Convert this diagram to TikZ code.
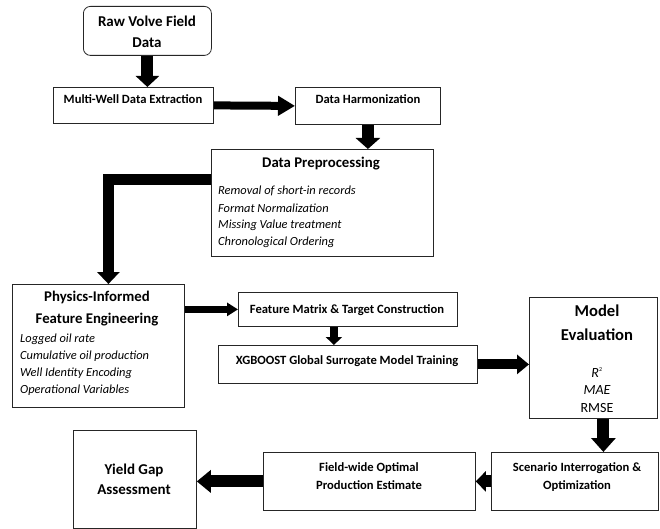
\documentclass[tikz,border=0pt]{standalone}
\usepackage{fontspec}
\setmainfont{Carlito}
\usetikzlibrary{arrows.meta,calc}
\tikzset{
  box/.style={draw=black!85,line width=0.8pt,fill=white,anchor=north west,inner sep=0pt},
  rbox/.style={box,rounded corners=7pt},
  lbl/.style={inner sep=0pt,anchor=base,font=\bfseries\fontsize{12.6}{14}\selectfont},
  big/.style={inner sep=0pt,anchor=base,font=\bfseries\fontsize{15}{17}\selectfont},
  ttl/.style={inner sep=0pt,anchor=base,font=\bfseries\fontsize{14.8}{17}\selectfont},
  hug/.style={inner sep=0pt,anchor=base,font=\bfseries\fontsize{16.6}{19}\selectfont},
  itm/.style={inner sep=0pt,anchor=base west,font=\itshape\fontsize{12.4}{14}\selectfont},
  met/.style={inner sep=0pt,anchor=base,font=\fontsize{14}{16}\selectfont},
  arr/.style={line width=#1,draw=black,line join=miter},
}
\begin{document}
\begin{tikzpicture}[x=1pt,y=1pt]
\useasboundingbox (0,0) rectangle (660,-529);
\fill[white] (0,0) rectangle (660,-529);
% boxes
\node[rbox,minimum width=128pt,minimum height=49pt] (raw) at (83,-6) {};
\node[box,minimum width=160pt,minimum height=36pt] (multi) at (53,-87) {};
\node[box,minimum width=145pt,minimum height=37pt] (harm) at (295,-87) {};
\node[box,minimum width=222pt,minimum height=107pt] (pre) at (211,-149) {};
\node[box,minimum width=172pt,minimum height=123pt] (phys) at (12,-284) {};
\node[box,minimum width=219pt,minimum height=34pt] (feat) at (238,-292) {};
\node[box,minimum width=259pt,minimum height=38pt] (xgb) at (218,-345) {};
\node[box,minimum width=128pt,minimum height=121pt] (model) at (529,-297) {};
\node[box,minimum width=167pt,minimum height=58pt] (scen) at (491,-452) {};
\node[box,minimum width=212pt,minimum height=58pt] (field) at (263,-452) {};
\node[box,minimum width=123pt,minimum height=98pt] (yield) at (73,-430) {};
% texts
\node[big] (rawa) at (147,-27) {Raw Volve Field};
\node[big] (rawb) at (147,-48) {Data};
\node[lbl] (multit) at (133,-104) {Multi-Well Data Extraction};
\node[lbl] (harmt) at (368,-104) {Data Harmonization};
\node[ttl] (pret) at (321,-168) {Data Preprocessing};
\node[itm] (pre1) at (218,-195) {Removal of short-in records};
\node[itm] (pre2) at (218,-212) {Format Normalization};
\node[itm] (pre3) at (218,-228) {Missing Value treatment};
\node[itm] (pre4) at (218,-245) {Chronological Ordering};
\node[ttl] (physa) at (97,-301) {Physics-Informed};
\node[ttl] (physb) at (97,-323) {Feature Engineering};
\node[itm] (phys1) at (20,-342) {Logged oil rate};
\node[itm] (phys2) at (20,-359) {Cumulative oil production};
\node[itm] (phys3) at (20,-376) {Well Identity Encoding};
\node[itm] (phys4) at (20,-393) {Operational Variables};
\node[lbl] (featt) at (347,-313) {Feature Matrix \& Target Construction};
\node[lbl] (xgbt) at (347,-364) {XGBOOST Global Surrogate Model Training};
\node[hug] (modela) at (597,-316) {Model};
\node[hug] (modelb) at (597,-340) {Evaluation};
\node[met] (m1) at (597,-377) {\textit{R}\textsuperscript{\fontsize{6}{7}\selectfont 2}};
\node[met,font=\itshape\fontsize{14}{16}\selectfont] (m2) at (597,-394) {MAE};
\node[met] (m3) at (597,-412) {RMSE};
\node[lbl] (scena) at (577,-471) {Scenario Interrogation \&};
\node[lbl] (scenb) at (577,-489) {Optimization};
\node[lbl] (fielda) at (369,-471) {Field-wide Optimal};
\node[lbl] (fieldb) at (369,-489) {Production Estimate};
\node[big] (yielda) at (134,-474) {Yield Gap};
\node[big] (yieldb) at (134,-494) {Assessment};
% arrows
\draw[arr=12pt,-{Triangle[width=23pt,length=11pt]}] (raw.south) -- (raw.south |- multi.north);
\draw[arr=8pt,-{Triangle[width=19pt,length=17pt]}] (multi.east) -- (harm.west);
\draw[arr=12pt,-{Triangle[width=24pt,length=11pt]}] (harm.south) -- (harm.south |- pre.north);
\coordinate (lstart) at ($(pre.north west)+(0,-31)$);
\coordinate (ldown) at ($(phys.north)+(10,0)$);
\draw[arr=11pt,-{Triangle[width=22pt,length=12pt]}] (lstart) -| (ldown);
\draw[arr=7pt,-{Triangle[width=13pt,length=11pt]}] (phys.east |- feat.west) -- (feat.west);
\draw[arr=8pt,-{Triangle[width=16pt,length=8pt]}] ([xshift=-14pt]feat.south) -- ([xshift=-14pt]feat.south |- xgb.north);
\draw[arr=10pt,-{Triangle[width=19pt,length=12pt]}] (xgb.east) -- (xgb.east -| model.west);
\draw[arr=12pt,-{Triangle[width=24pt,length=14pt]}] ([xshift=10pt]model.south) -- ([xshift=10pt]model.south |- scen.north);
\draw[arr=12pt,-{Triangle[width=20pt,length=10pt]}] (scen.west) -- (field.east);
\draw[arr=12pt,-{Triangle[width=22pt,length=14pt]}] (field.west) -- (field.west -| yield.east);
\end{tikzpicture}
\end{document}
